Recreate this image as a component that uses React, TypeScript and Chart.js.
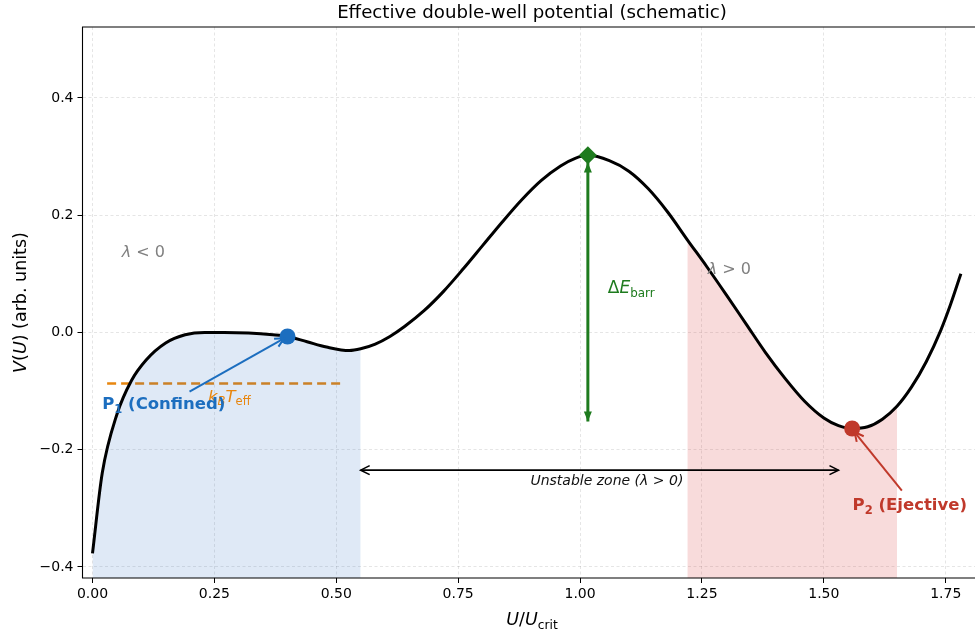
import { useEffect, useRef } from 'react';
import { Chart, registerables, type Plugin } from 'chart.js';

Chart.register(...registerables);

/* ─── Data ──────────────────────────────────────────────────────────────── */

const FONT = "'DejaVu Sans', sans-serif";

// schematic potential V(U) vs U/U_crit
const U_VALUES = [
  0.0, 0.02, 0.05, 0.08, 0.11, 0.15, 0.19, 0.23, 0.27, 0.32, 0.37, 0.4, 0.44,
  0.48, 0.527, 0.55, 0.58, 0.61, 0.64, 0.68, 0.72, 0.76, 0.8, 0.84, 0.88, 0.92,
  0.96, 0.99, 1.016, 1.06, 1.1, 1.14, 1.18, 1.22, 1.26, 1.3, 1.34, 1.38, 1.42,
  1.46, 1.5, 1.53, 1.558, 1.59, 1.62, 1.65, 1.68, 1.71, 1.74, 1.76, 1.781,
];
const V_VALUES = [
  -0.377, -0.24, -0.14, -0.082, -0.047, -0.018, -0.004, 0.0, 0.0, -0.001, -0.004,
  -0.007, -0.016, -0.025, -0.031, -0.028, -0.02, -0.007, 0.01, 0.037, 0.07, 0.108,
  0.148, 0.188, 0.226, 0.259, 0.284, 0.297, 0.302, 0.293, 0.275, 0.245, 0.205,
  0.158, 0.112, 0.064, 0.015, -0.034, -0.078, -0.117, -0.146, -0.159, -0.164,
  -0.161, -0.148, -0.126, -0.093, -0.05, 0.004, 0.048, 0.1,
];

const CONFINED_RANGE = [0, 0.55];
const EJECTIVE_RANGE = [1.22, 1.65];

const P1_POINT = [{ x: 0.4, y: -0.007 }];
const BARRIER_POINT = [{ x: 1.016, y: 0.302 }];
const P2_POINT = [{ x: 1.558, y: -0.164 }];

const KBT_LEVEL = -0.087;
const KBT_SPAN = [0.03, 0.515];
const BARRIER_ARROW = { x: 1.016, top: 0.29, bottom: -0.152 };
const UNSTABLE_ARROW = { y: -0.235, from: 0.55, to: 1.53 };

const X_TICKS = [0, 0.25, 0.5, 0.75, 1.0, 1.25, 1.5, 1.75];
const X_TICK_LABELS = ['0.00', '0.25', '0.50', '0.75', '1.00', '1.25', '1.50', '1.75'];
const Y_TICKS = [-0.4, -0.2, 0, 0.2, 0.4];
const Y_TICK_LABELS = ['\u22120.4', '\u22120.2', '0.0', '0.2', '0.4'];

const COLOUR = {
  curve: '#000000',
  blue: '#1c6ebf',
  red: '#c0392b',
  green: '#1e7b1e',
  orange: '#e8860f',
  grey: '#808080',
  blueFill: 'rgba(25,100,190,0.14)',
  redFill: 'rgba(214,39,40,0.17)',
  grid: 'rgba(0,0,0,0.13)',
};

/* ─── Helpers ───────────────────────────────────────────────────────────── */

type Seg = { t: string; it?: boolean; bold?: boolean; sub?: boolean };

function drawRich(
  ctx: CanvasRenderingContext2D,
  segs: Seg[],
  x: number,
  cy: number,
  size: number,
  colour: string,
  align: 'left' | 'center' = 'left',
) {
  const fontOf = (s: Seg) =>
    `${s.it ? 'italic ' : ''}${s.bold ? 'bold ' : ''}${s.sub ? size * 0.7 : size}px ${FONT}`;
  let total = 0;
  for (const s of segs) {
    ctx.font = fontOf(s);
    total += ctx.measureText(s.t).width;
  }
  let cx = align === 'center' ? x - total / 2 : x;
  const base = cy + size * 0.36;
  ctx.fillStyle = colour;
  ctx.textAlign = 'left';
  ctx.textBaseline = 'alphabetic';
  for (const s of segs) {
    ctx.font = fontOf(s);
    ctx.fillText(s.t, cx, s.sub ? base + size * 0.22 : base);
    cx += ctx.measureText(s.t).width;
  }
}

function arrowHead(
  ctx: CanvasRenderingContext2D,
  fx: number, fy: number, tx: number, ty: number,
  len: number, half: number, filled: boolean,
) {
  const a = Math.atan2(ty - fy, tx - fx);
  const bx = tx - len * Math.cos(a);
  const by = ty - len * Math.sin(a);
  const nx = -Math.sin(a) * half;
  const ny = Math.cos(a) * half;
  ctx.beginPath();
  ctx.moveTo(bx + nx, by + ny);
  ctx.lineTo(tx, ty);
  ctx.lineTo(bx - nx, by - ny);
  if (filled) {
    ctx.closePath();
    ctx.fill();
  } else {
    ctx.stroke();
  }
}

function arrow(
  ctx: CanvasRenderingContext2D,
  x1: number, y1: number, x2: number, y2: number,
  colour: string, width: number, both: boolean, filled: boolean,
) {
  ctx.save();
  ctx.strokeStyle = colour;
  ctx.fillStyle = colour;
  ctx.lineWidth = width;
  ctx.setLineDash([]);
  ctx.beginPath();
  ctx.moveTo(x1, y1);
  ctx.lineTo(x2, y2);
  ctx.stroke();
  const len = filled ? 10 : 9;
  const half = filled ? 4 : 4.5;
  arrowHead(ctx, x1, y1, x2, y2, len, half, filled);
  if (both) arrowHead(ctx, x2, y2, x1, y1, len, half, filled);
  ctx.restore();
}

const segment = (lo: number, hi: number) =>
  U_VALUES.map((u, i) => ({ x: u, y: V_VALUES[i] })).filter((p) => p.x >= lo && p.x <= hi);

/* ─── Annotation plugin ─────────────────────────────────────────────────── */

const annotations: Plugin = {
  id: 'annotations',
  beforeDatasetsDraw(chart) {
    const { ctx } = chart;
    const xs = chart.scales.x;
    const ys = chart.scales.y;
    // orange kB*T_eff level
    ctx.save();
    ctx.strokeStyle = COLOUR.orange;
    ctx.lineWidth = 2.5;
    ctx.setLineDash([9, 5]);
    ctx.beginPath();
    ctx.moveTo(xs.getPixelForValue(KBT_SPAN[0]), ys.getPixelForValue(KBT_LEVEL));
    ctx.lineTo(xs.getPixelForValue(KBT_SPAN[1]), ys.getPixelForValue(KBT_LEVEL));
    ctx.stroke();
    ctx.restore();
  },
  afterDatasetsDraw(chart) {
    const { ctx, chartArea: a } = chart;
    const xs = chart.scales.x;
    const ys = chart.scales.y;
    const px = (v: number) => xs.getPixelForValue(v);
    const py = (v: number) => ys.getPixelForValue(v);

    // barrier arrow
    arrow(ctx, px(BARRIER_ARROW.x), py(BARRIER_ARROW.top), px(BARRIER_ARROW.x), py(BARRIER_ARROW.bottom),
      COLOUR.green, 3, true, true);
    drawRich(ctx, [{ t: '\u0394' }, { t: 'E', it: true }, { t: 'barr', sub: true }],
      px(1.057), py(0.078), 17, COLOUR.green);

    // unstable zone
    arrow(ctx, px(UNSTABLE_ARROW.from), py(UNSTABLE_ARROW.y), px(UNSTABLE_ARROW.to), py(UNSTABLE_ARROW.y),
      '#000', 1.6, true, false);
    drawRich(ctx, [{ t: 'Unstable zone (\u03bb > 0)', it: true }], px(1.055), py(-0.252), 14, '#111', 'center');

    // lambda labels
    drawRich(ctx, [{ t: '\u03bb', it: true }, { t: ' < 0' }], px(0.06), py(0.139), 16, COLOUR.grey);
    drawRich(ctx, [{ t: '\u03bb', it: true }, { t: ' > 0' }], px(1.262), py(0.109), 16, COLOUR.grey);

    // kB T_eff label
    drawRich(ctx, [{ t: 'k', it: true }, { t: 'B', it: true, sub: true }, { t: 'T', it: true }, { t: 'eff', sub: true }],
      px(0.237), py(-0.108), 16.5, COLOUR.orange);

    // P1
    arrow(ctx, px(0.199), py(-0.101), px(0.393), py(-0.01), COLOUR.blue, 2, false, false);
    drawRich(ctx, [{ t: 'P', bold: true }, { t: '1', bold: true, sub: true }, { t: ' (Confined)', bold: true }],
      px(0.02), py(-0.121), 16.5, COLOUR.blue);

    // P2
    arrow(ctx, px(1.66), py(-0.27), px(1.563), py(-0.17), COLOUR.red, 2, false, false);
    drawRich(ctx, [{ t: 'P', bold: true }, { t: '2', bold: true, sub: true }, { t: ' (Ejective)', bold: true }],
      px(1.559), py(-0.293), 16.5, COLOUR.red);

    // spines
    ctx.save();
    ctx.strokeStyle = '#000';
    ctx.lineWidth = 1.1;
    ctx.setLineDash([]);
    ctx.beginPath();
    ctx.moveTo(a.right + 2, a.top);
    ctx.lineTo(a.left, a.top);
    ctx.lineTo(a.left, a.bottom);
    ctx.lineTo(a.right + 2, a.bottom);
    ctx.stroke();
    ctx.restore();

    // title and axis labels
    const mid = 532;
    ctx.save();
    ctx.fillStyle = '#000';
    ctx.font = `18.2px ${FONT}`;
    ctx.textAlign = 'center';
    ctx.textBaseline = 'middle';
    ctx.fillText('Effective double-well potential (schematic)', mid, 13);
    ctx.restore();

    drawRich(ctx, [{ t: 'U', it: true }, { t: '/' }, { t: 'U', it: true }, { t: 'crit', sub: true }],
      mid, 619, 17.5, '#000', 'center');

    ctx.save();
    ctx.translate(20, (a.top + a.bottom) / 2);
    ctx.rotate(-Math.PI / 2);
    drawRich(ctx, [{ t: 'V', it: true }, { t: '(' }, { t: 'U', it: true }, { t: ') (arb. units)' }],
      0, 0, 17.5, '#000', 'center');
    ctx.restore();
  },
};

/* ─── Component ─────────────────────────────────────────────────────────── */

export default function App() {
  const canvasRef = useRef<HTMLCanvasElement>(null);

  useEffect(() => {
    if (!canvasRef.current) return;
    const tickFont = { family: FONT, size: 14 };
    const grid = {
      color: COLOUR.grid,
      lineWidth: 0.8,
      tickColor: '#000',
      tickLength: 5,
      tickWidth: 1,
      tickBorderDash: [0, 0],
    };
    const chart = new Chart(canvasRef.current, {
      type: 'line',
      data: {
        datasets: [
          {
            type: 'scatter',
            data: P1_POINT,
            pointRadius: 8,
            pointBackgroundColor: COLOUR.blue,
            pointBorderWidth: 0,
            order: 0,
          },
          {
            type: 'scatter',
            data: BARRIER_POINT,
            pointStyle: 'rectRot',
            pointRadius: 9,
            pointBackgroundColor: COLOUR.green,
            pointBorderWidth: 0,
            order: 0,
          },
          {
            type: 'scatter',
            data: P2_POINT,
            pointRadius: 8,
            pointBackgroundColor: COLOUR.red,
            pointBorderWidth: 0,
            order: 0,
          },
          {
            data: U_VALUES.map((u, i) => ({ x: u, y: V_VALUES[i] })),
            borderColor: COLOUR.curve,
            borderWidth: 3,
            pointRadius: 0,
            cubicInterpolationMode: 'monotone',
            fill: false,
            order: 1,
          },
          {
            data: segment(CONFINED_RANGE[0], CONFINED_RANGE[1]),
            borderWidth: 0,
            borderColor: 'transparent',
            backgroundColor: COLOUR.blueFill,
            pointRadius: 0,
            cubicInterpolationMode: 'monotone',
            fill: 'start',
            order: 2,
          },
          {
            data: segment(EJECTIVE_RANGE[0], EJECTIVE_RANGE[1]),
            borderWidth: 0,
            borderColor: 'transparent',
            backgroundColor: COLOUR.redFill,
            pointRadius: 0,
            cubicInterpolationMode: 'monotone',
            fill: 'start',
            order: 2,
          },
        ],
      },
      options: {
        responsive: false,
        animation: false,
        events: [],
        layout: { autoPadding: false, padding: { top: 27, left: 0, right: 0, bottom: 0 } },
        plugins: { legend: { display: false }, tooltip: { enabled: false }, title: { display: false } },
        scales: {
          x: {
            type: 'linear',
            min: -0.0205,
            max: 1.81,
            afterFit: (s) => {
              s.height = 56;
              s.paddingLeft = 0;
              s.paddingRight = 0;
            },
            afterBuildTicks: (s) => { s.ticks = X_TICKS.map((v) => ({ value: v })); },
            grid,
            border: { display: false, dash: [3, 2.5] },
            ticks: {
              font: tickFont,
              color: '#000',
              padding: 3,
              maxRotation: 0,
              autoSkip: false,
              callback: (v) => X_TICK_LABELS[X_TICKS.indexOf(Number(v))] ?? '',
            },
          },
          y: {
            type: 'linear',
            min: -0.419,
            max: 0.521,
            afterFit: (s) => {
              s.width = 82.5;
              s.paddingTop = 0;
              s.paddingBottom = 0;
            },
            afterBuildTicks: (s) => { s.ticks = Y_TICKS.map((v) => ({ value: v })); },
            grid,
            border: { display: false, dash: [3, 2.5] },
            ticks: {
              font: tickFont,
              color: '#000',
              padding: 4,
              autoSkip: false,
              callback: (v) => Y_TICK_LABELS[Y_TICKS.indexOf(Number(v))] ?? '',
            },
          },
        },
      },
      plugins: [annotations],
    });
    return () => chart.destroy();
  }, []);

  return (
    <div style={{ position: 'absolute', left: 0, top: 0, width: 975, height: 634, background: '#fff' }}>
      <canvas ref={canvasRef} width={975} height={634} />
    </div>
  );
}
